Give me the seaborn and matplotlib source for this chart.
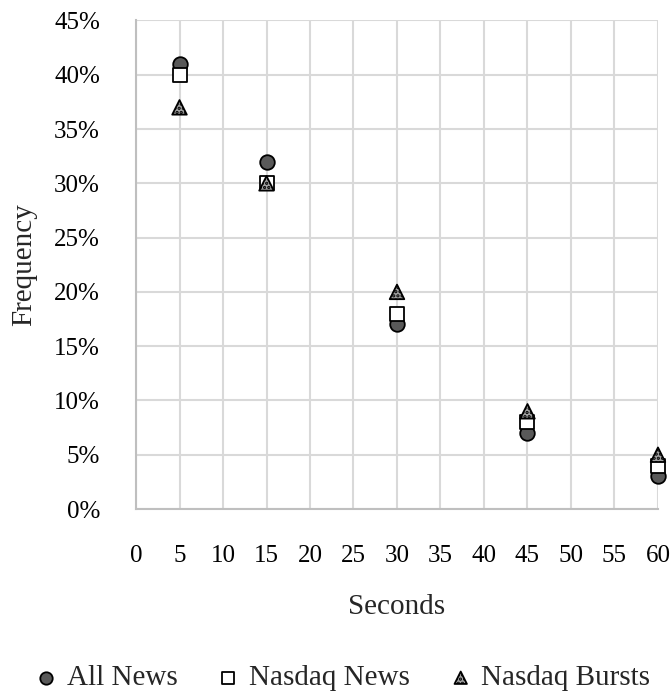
import matplotlib
matplotlib.use("Agg")
import matplotlib.pyplot as plt
import matplotlib.ticker as mticker
import seaborn as sns
import pandas as pd

# Response-time distribution data
seconds = [5, 15, 30, 45, 60]
all_news = [41, 32, 17, 7, 3]
nasdaq_news = [40, 30, 18, 8, 4]
nasdaq_bursts = [37, 30, 20, 9, 5]
series_names = ["All News", "Nasdaq News", "Nasdaq Bursts"]

x_ticks = list(range(0, 61, 5))
y_ticks = [v / 100 for v in range(0, 46, 5)]

sns.set_theme(style="white")
plt.rcParams["font.family"] = ["Liberation Serif", "DejaVu Serif"]
plt.rcParams["hatch.linewidth"] = 1.6

frames = []
for name, vals in zip(series_names, [all_news, nasdaq_news, nasdaq_bursts]):
    frames.append(pd.DataFrame({"Seconds": seconds,
                                "Frequency": [v / 100 for v in vals],
                                "Series": name}))
df = pd.concat(frames, ignore_index=True)

fig = plt.figure(figsize=(6.71, 6.97), dpi=100)
ax = fig.add_axes([0.2027, 0.2697, 0.7779, 0.7009])

styles = {
    "All News": dict(marker="o", facecolor="#595959", hatch=None),
    "Nasdaq News": dict(marker="s", facecolor="white", hatch=None),
    "Nasdaq Bursts": dict(marker="^", facecolor="#a0a0a0", hatch="...."),
}

for i, name in enumerate(series_names):
    st = styles[name]
    kw = dict(marker=st["marker"], color=st["facecolor"], edgecolor="black",
              s=110, linewidth=1.3, clip_on=False, zorder=3 + i)
    if st["hatch"]:
        kw["hatch"] = st["hatch"]
    sns.scatterplot(data=df[df["Series"] == name], x="Seconds", y="Frequency",
                    ax=ax, legend=False, **kw)

ax.set_xlim(0, 60)
ax.set_ylim(0, 0.45)
ax.set_xticks(x_ticks)
ax.set_yticks(y_ticks)
ax.yaxis.set_major_formatter(mticker.FuncFormatter(lambda v, p: f"{v * 100:.0f}%"))
ax.grid(True, color="#d9d9d9", linewidth=1.5)
ax.set_axisbelow(True)
for side in ["top", "right"]:
    ax.spines[side].set_visible(False)
for side in ["left", "bottom"]:
    ax.spines[side].set_color("#bfbfbf")
    ax.spines[side].set_linewidth(1.5)
ax.tick_params(axis="both", length=0, labelsize=18, colors="black")
ax.tick_params(axis="x", pad=26)
ax.tick_params(axis="y", pad=26)

ax.set_xlabel("Seconds", fontsize=21, labelpad=19)
ax.set_ylabel("Frequency", fontsize=21, labelpad=12)

handles = list(ax.collections[:3])
fig.legend(handles=handles, labels=series_names, loc="center",
           bbox_to_anchor=(0.508, 0.027), ncol=3, frameon=False, fontsize=21,
           handletextpad=0.2, columnspacing=1.25, handlelength=1.0,
           scatterpoints=1, markerscale=0.85)

fig.savefig("out.png", dpi=100)
